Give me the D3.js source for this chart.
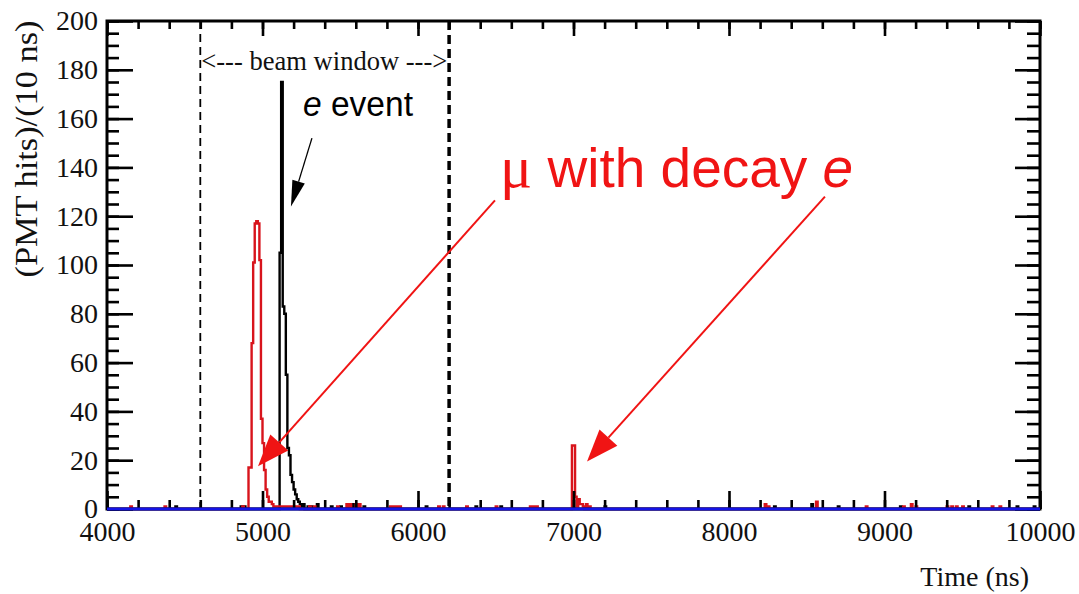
<!DOCTYPE html>
<html><head><meta charset="utf-8">
<script src="https://cdn.jsdelivr.net/npm/d3@7"></script>
<style>body{margin:0;background:#fff}svg{display:block}</style>
</head><body>
<svg id="c" width="1079" height="594"></svg>
<script>
// ---- data ----
const xDomain = [4000, 10000];
const yDomain = [0, 200];
const binWidth = 10;
const xTickValues = [4000, 5000, 6000, 7000, 8000, 9000, 10000];
const yTickValues = [0, 20, 40, 60, 80, 100, 120, 140, 160, 180, 200];
const beamWindow = [4600, 6200];
// red histogram: muon + decay electron (bin start ns, hits per 10 ns)
const muBins = [
  [4150,1],[4370,1],[4870,1],
  [4910,17],[4920,17],[4930,68],[4940,101],[4950,117],[4960,118],[4970,117],[4980,102],
  [4990,37],[5000,27],[5010,16],[5020,8],[5030,5],[5040,3],[5050,3],[5060,2],[5070,1],
  [5080,1],[5090,1],[5100,1],[5110,1],[5120,1],[5130,1],[5140,1],[5150,1],[5160,1],
  [5170,1],[5180,1],[5190,1],[5200,1],[5210,1],[5220,1],[5230,1],
  [5300,1],[5330,1],[5480,1],[5540,2],[5560,2],[5600,2],[5620,2],
  [5820,1],[5840,1],[5860,1],[5880,1],[6130,1],[6160,1],[6310,1],[6500,1],
  [6720,1],[6740,1],[6760,1],
  [6990,26],[7000,26],[7010,5],[7020,1],[7030,4],[7040,2],[7050,2],[7060,1],[7080,2],[7100,1],
  [8230,2],[8250,1],[8560,3],[8880,1],[9120,1],[9170,2],[9200,1],
  [9400,1],[9430,1],[9460,1],[9500,1],[9690,1],[9740,1]
];
// black histogram: single electron event
const eBins = [
  [4440,1],[4860,1],[4880,1],
  [5110,105],[5120,175],[5130,83],[5140,80],[5150,55],[5160,25],[5170,22],[5180,14],
  [5190,11],[5200,8],[5210,6],[5220,4],[5230,3],[5240,2],[5250,1],[5260,2],[5290,1],
  [5310,1],[5350,2],[5440,1],[5500,1],[5580,2],[5650,1],[6050,1],[6370,1],[6530,1],
  [7200,1],[8290,1],[8530,2],[8700,1],[9100,1],[9540,1],[9850,1],[9960,1]
];
const labels = {
  yTitle: "(PMT hits)/(10 ns)",
  xTitle: "Time (ns)",
  beam: "<--- beam window --->"
};
// annotation arrows in data coordinates [xStart,yStart,xTip,yTip]
const eArrow = [5318, 152, 5183, 124];
const muArrows = [[6495, 126.5, 4971, 17.5], [8617, 128, 7087, 19.5]];

// ---- drawing ----
const svg = d3.select("#c");
const L = 107, R = 1040, T = 21, B = 509;
const x = d3.scaleLinear().domain(xDomain).range([L, R]);
const y = d3.scaleLinear().domain(yDomain).range([B, T]);
const serif = "'Liberation Serif','Times New Roman',serif";
const sans = "'Liberation Sans',Arial,sans-serif";

function fullBins(list) {
  const m = new Map(list);
  const out = [];
  for (let v = xDomain[0]; v < xDomain[1]; v += binWidth) out.push([v, m.get(v) || 0]);
  out.push([xDomain[1], 0]);
  return out;
}
const stepLine = d3.line().x(d => x(d[0])).y(d => y(d[1])).curve(d3.curveStepAfter);

svg.append("path").attr("d", stepLine(fullBins(eBins)))
  .attr("fill", "none").attr("stroke", "#000").attr("stroke-width", 2.4);
svg.append("path").attr("d", stepLine(fullBins(muBins)))
  .attr("fill", "none").attr("stroke", "#d8141c").attr("stroke-width", 2.4);

// beam window lines
svg.append("line").attr("x1", x(beamWindow[0])).attr("x2", x(beamWindow[0]))
  .attr("y1", T).attr("y2", B).attr("stroke", "#000").attr("stroke-width", 1.8)
  .attr("stroke-dasharray", "8,5");
svg.append("line").attr("x1", x(beamWindow[1])).attr("x2", x(beamWindow[1]))
  .attr("y1", T).attr("y2", B).attr("stroke", "#000").attr("stroke-width", 3.5)
  .attr("stroke-dasharray", "9,5");

// axes (ticks pointing inward)
function styleAxis(g) {
  g.select(".domain").remove();
  g.selectAll(".tick line").attr("stroke", "#000").attr("stroke-width", 2.6);
  g.selectAll("text").attr("font-family", serif).attr("font-size", 28).attr("fill", "#111");
}
const yMinor = d3.range(0, 201, 5);
const xMinor = d3.range(4000, 10001, 200);

svg.append("g").attr("transform", `translate(${L},0)`)
  .call(d3.axisLeft(y).tickValues(yMinor).tickSize(-12).tickFormat("")).call(styleAxis);
svg.append("g").attr("transform", `translate(${L},0)`)
  .call(d3.axisLeft(y).tickValues(yTickValues).tickSize(-26).tickPadding(9).tickFormat(d3.format("d")))
  .call(styleAxis);
svg.append("g").attr("transform", `translate(${R},0)`)
  .call(d3.axisRight(y).tickValues(yMinor).tickSize(-13).tickFormat("")).call(styleAxis);
svg.append("g").attr("transform", `translate(${R},0)`)
  .call(d3.axisRight(y).tickValues(yTickValues).tickSize(-25).tickFormat("")).call(styleAxis);

svg.append("g").attr("transform", `translate(0,${B})`)
  .call(d3.axisBottom(x).tickValues(xMinor).tickSize(-9).tickFormat("")).call(styleAxis);
svg.append("g").attr("transform", `translate(0,${B})`)
  .call(d3.axisBottom(x).tickValues(xTickValues).tickSize(-18).tickPadding(12).tickFormat(d3.format("d")))
  .call(styleAxis);
svg.append("g").attr("transform", `translate(0,${T})`)
  .call(d3.axisTop(x).tickValues(xMinor).tickSize(-8).tickFormat("")).call(styleAxis);
svg.append("g").attr("transform", `translate(0,${T})`)
  .call(d3.axisTop(x).tickValues(xTickValues).tickSize(-15).tickFormat("")).call(styleAxis);

// frame
svg.append("rect").attr("x", L).attr("y", T).attr("width", R - L).attr("height", B - T)
  .attr("fill", "none").attr("stroke", "#000").attr("stroke-width", 3);

// blue zero baseline on top of the frame
svg.append("line").attr("x1", x(xDomain[0])).attr("x2", x(xDomain[1]))
  .attr("y1", y(0)).attr("y2", y(0)).attr("stroke", "#1414e6").attr("stroke-width", 3);

// titles
svg.append("text").attr("transform", `translate(37,${(T + 277) / 2}) rotate(-90)`)
  .attr("text-anchor", "middle").attr("font-family", serif).attr("font-size", 31)
  .attr("fill", "#111").attr("textLength", 257).attr("lengthAdjust", "spacingAndGlyphs")
  .text(labels.yTitle);
svg.append("text").attr("x", 1029).attr("y", 586).attr("text-anchor", "end")
  .attr("font-family", serif).attr("font-size", 28).attr("fill", "#111").text(labels.xTitle);

// beam window label
svg.append("text").attr("x", x(beamWindow[0]) + 1).attr("y", 70)
  .attr("font-family", serif).attr("font-size", 26.5).attr("fill", "#111")
  .attr("textLength", 246).attr("lengthAdjust", "spacingAndGlyphs").text(labels.beam);

// e event label
const et = svg.append("text").attr("x", 303).attr("y", 116)
  .attr("font-family", sans).attr("font-size", 35).attr("fill", "#000")
  .attr("textLength", 110).attr("lengthAdjust", "spacingAndGlyphs");
et.append("tspan").attr("font-style", "italic").text("e");
et.append("tspan").text(" event");

// mu label
const mt = svg.append("text").attr("x", 500).attr("y", 187)
  .attr("font-family", sans).attr("font-size", 55).attr("fill", "#f01414");
mt.append("tspan").attr("font-family", serif).attr("font-size", 60).text("μ");
mt.append("tspan").text(" with decay ");
mt.append("tspan").attr("font-style", "italic").text("e");

// arrows
function arrow(a, color, w, headLen, headW) {
  const x0 = x(a[0]), y0 = y(a[1]), x1 = x(a[2]), y1 = y(a[3]);
  const ang = Math.atan2(y1 - y0, x1 - x0);
  const bx = x1 - headLen * Math.cos(ang), by = y1 - headLen * Math.sin(ang);
  svg.append("line").attr("x1", x0).attr("y1", y0).attr("x2", bx).attr("y2", by)
    .attr("stroke", color).attr("stroke-width", w);
  const px = -Math.sin(ang) * headW / 2, py = Math.cos(ang) * headW / 2;
  svg.append("path").attr("d", `M${x1},${y1}L${bx + px},${by + py}L${bx - px},${by - py}Z`)
    .attr("fill", color);
}
arrow(eArrow, "#000", 1.3, 26, 13);
muArrows.forEach(a => arrow(a, "#f01414", 2, 32, 24));
</script>
</body></html>
